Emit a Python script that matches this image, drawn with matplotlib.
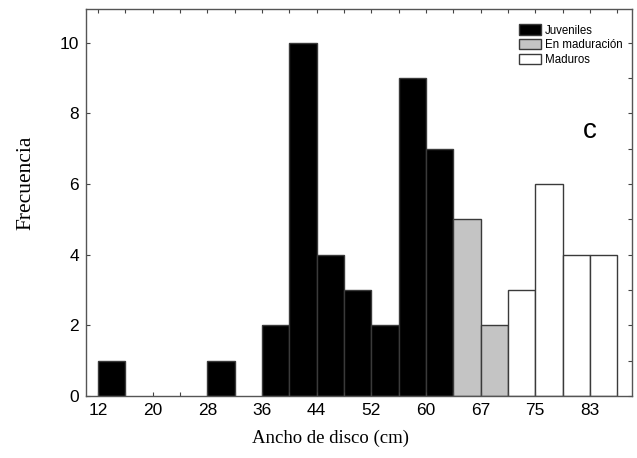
import numpy as np
import matplotlib
matplotlib.use("Agg")
import matplotlib.pyplot as plt
from matplotlib.patches import Patch
from matplotlib.ticker import MultipleLocator

# histogram bins (4 cm each), first bin starts at 12 cm
bin_index = np.arange(19)
juveniles = [1, 0, 0, 0, 1, 0, 2, 10, 4, 3, 2, 9, 7, 0, 0, 0, 0, 0, 0]
maduracion = [0, 0, 0, 0, 0, 0, 0, 0, 0, 0, 0, 0, 0, 5, 2, 0, 0, 0, 0]
maduros = [0, 0, 0, 0, 0, 0, 0, 0, 0, 0, 0, 0, 0, 0, 0, 3, 6, 4, 4]
tick_labels = ["12", "20", "28", "36", "44", "52", "60", "67", "75", "83"]

fig = plt.figure(figsize=(6.37, 4.58), dpi=100)
ax = fig.add_axes([0.135, 0.1354, 0.857, 0.845])

edge = "#3a3a3a"
series = [(juveniles, "black", "Juveniles"),
          (maduracion, "#c4c4c4", "En maduración"),
          (maduros, "white", "Maduros")]
for vals, col, lab in series:
    vals = np.array(vals)
    m = vals > 0
    ax.bar(bin_index[m], vals[m], width=1, align="edge", color=col,
           edgecolor=edge, linewidth=1.0)

ax.set_xlim(-0.44, 19.54)
ax.set_ylim(0, 10.96)
ax.set_xticks(np.arange(0, 19, 2))
ax.set_xticklabels(tick_labels)
ax.xaxis.set_minor_locator(MultipleLocator(1))
ax.set_yticks([0, 2, 4, 6, 8, 10])
ax.yaxis.set_minor_locator(MultipleLocator(1))

sans = "Liberation Sans"
serif = "Liberation Serif"
ax.tick_params(which="both", direction="in", top=True, right=True,
               length=3, width=0.8, color="#444444")
ax.tick_params(which="minor", left=False)
ax.tick_params(axis="both", labelsize=12.5, pad=5)
for t in ax.get_xticklabels() + ax.get_yticklabels():
    t.set_fontfamily(sans)
for s in ax.spines.values():
    s.set_color("#555555")
    s.set_linewidth(1.0)

ax.set_xlabel("Ancho de disco (cm)", fontfamily=serif, fontsize=13.5)
ax.xaxis.set_label_coords(0.447, -0.088)
ax.set_ylabel("Frecuencia", fontfamily=serif, fontsize=15.5)
ax.yaxis.set_label_coords(-0.092, 0.55)

handles = [Patch(facecolor=c, edgecolor=edge, label=l) for _, c, l in series]
ax.legend(handles=handles, loc="upper left", bbox_to_anchor=(0.785, 0.972),
          frameon=False, prop={"family": sans, "size": 8.3},
          handlelength=1.9, handleheight=1.0, handletextpad=0.35,
          labelspacing=0.22, borderaxespad=0)

ax.text(0.923, 0.685, "c", transform=ax.transAxes, fontfamily=sans,
        fontsize=20, ha="center", va="center")

fig.savefig("out.png", dpi=100)
